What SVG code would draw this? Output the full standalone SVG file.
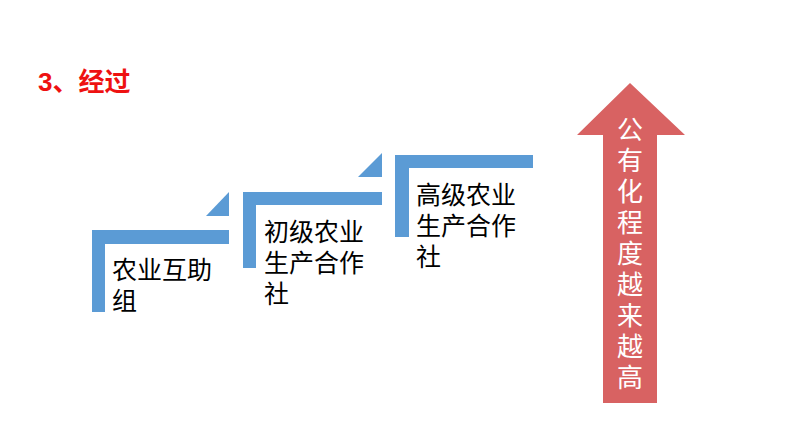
<svg xmlns="http://www.w3.org/2000/svg" width="794" height="447" viewBox="0 0 794 447">
<style>
.step{fill:#5B9BD5}
.lbl{font-family:"Liberation Sans","Noto Sans CJK SC",sans-serif;font-size:25px;fill:#000}
.up{font-family:"Noto Sans CJK SC",sans-serif;font-size:26px;fill:#fff;text-anchor:middle}
.title{font-family:"Liberation Sans","Noto Sans CJK SC",sans-serif;font-size:26px;font-weight:bold;fill:#EE1111}
</style>
<rect width="794" height="447" fill="#fff"/>
<text class="title" x="38" y="91">3、经过</text>
<g id="step1">
<path class="step" d="M92 230H229V244H105V312H92Z"/>
<polygon class="step" points="206,216 229,216 229,192"/>
<text class="lbl" x="112" y="279">农业互助</text>
<text class="lbl" x="112" y="310">组</text>
</g>
<g id="step2">
<path class="step" d="M243 192H382V205H256V268H243Z"/>
<polygon class="step" points="358,177 382,177 382,153"/>
<text class="lbl" x="264" y="241">初级农业</text>
<text class="lbl" x="264" y="272">生产合作</text>
<text class="lbl" x="264" y="303">社</text>
</g>
<g id="step3">
<path class="step" d="M395 155H533V168H409V237H395Z"/>
<text class="lbl" x="416" y="204">高级农业</text>
<text class="lbl" x="416" y="235">生产合作</text>
<text class="lbl" x="416" y="266">社</text>
</g>
<g id="arrow">
<polygon fill="#D86262" points="630,83 685,135 657,135 657,403 603,403 603,135 577,135"/>
<text class="up" x="630" y="139">公</text>
<text class="up" x="630" y="170">有</text>
<text class="up" x="630" y="201">化</text>
<text class="up" x="630" y="232">程</text>
<text class="up" x="630" y="263">度</text>
<text class="up" x="630" y="294">越</text>
<text class="up" x="630" y="325">来</text>
<text class="up" x="630" y="356">越</text>
<text class="up" x="630" y="387">高</text>
</g>
<g id="connectors"/>
</svg>
